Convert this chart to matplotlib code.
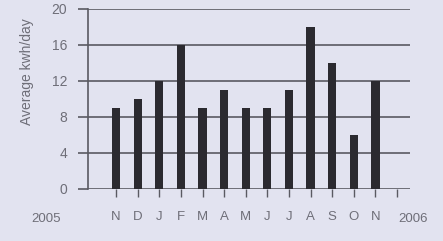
import matplotlib.pyplot as plt

months = ['N', 'D', 'J', 'F', 'M', 'A', 'M', 'J', 'J', 'A', 'S', 'O', 'N']
kwh = [9, 10, 12, 16, 9, 11, 9, 9, 11, 18, 14, 6, 12]
yticks = [0, 4, 8, 12, 16, 20]

bg = '#e2e3f0'
grid_c = '#5a5a62'
text_c = '#6e6e78'
plt.rcParams['font.family'] = ['Liberation Sans', 'DejaVu Sans']

fig = plt.figure(figsize=(4.43, 2.41), dpi=100)
fig.patch.set_facecolor(bg)
# axes box: x 88..410 px, y 9..189 px
ax = fig.add_axes([88 / 443, 1 - 189 / 241, (410 - 88) / 443, 180 / 241])
ax.set_facecolor(bg)

x = list(range(len(months)))
ax.bar(x, kwh, width=0.38, color='#2b2a30', zorder=3)

ax.set_ylim(0, 20)
ax.set_xlim(-1.3, 13.6)
ax.set_yticks(yticks)
ax.set_yticklabels([str(v) for v in yticks], fontsize=10, color=text_c)
for v in yticks:
    ax.axhline(v, color=grid_c, lw=1.2, zorder=1)

ax.set_xticks(x + [13])
ax.set_xticklabels(months + [''], fontsize=9.5, color=text_c)
ax.tick_params(axis='x', direction='out', length=6, width=1, color=grid_c, pad=10)
ax.tick_params(axis='y', direction='out', length=7, width=1.2, color=grid_c, pad=8)

for s in ['top', 'right', 'bottom']:
    ax.spines[s].set_visible(False)
ax.spines['left'].set_color(grid_c)
ax.spines['left'].set_linewidth(1.2)

ax.text(-3.25, -0.165, '2005', transform=ax.get_xaxis_transform(), ha='center', va='center',
        fontsize=9.5, color=text_c, clip_on=False)
ax.text(13.75, -0.165, '2006', transform=ax.get_xaxis_transform(), ha='center', va='center',
        fontsize=9.5, color=text_c, clip_on=False)

fig.text(27 / 443, 1 - 72 / 241, 'Average kwh/day', rotation=90, ha='center', va='center',
         fontsize=10, color=text_c)

fig.savefig('out.png', dpi=100, facecolor=bg)
